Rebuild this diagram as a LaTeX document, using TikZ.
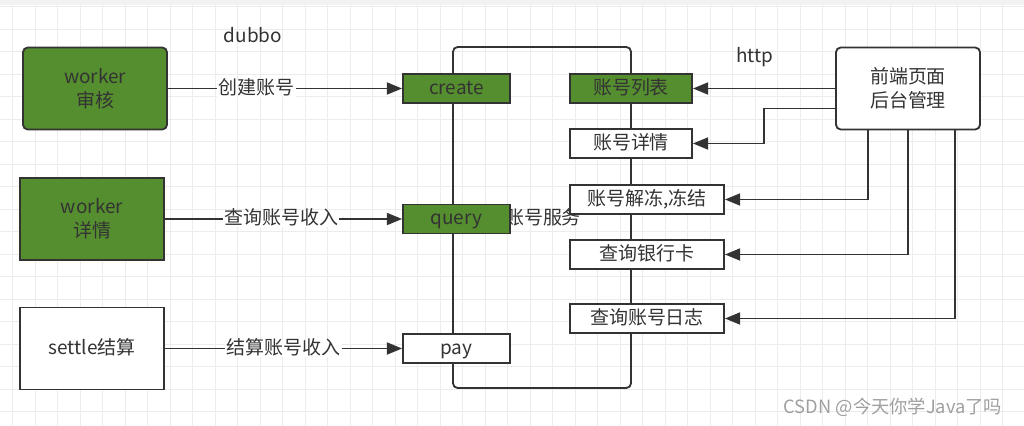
\documentclass[tikz,border=0pt]{standalone}
\usepackage{fontspec}
\setmainfont{Noto Sans CJK SC}
\usetikzlibrary{arrows.meta}
\definecolor{leaf}{RGB}{85,142,47}
\definecolor{ink}{RGB}{51,51,51}
\definecolor{gridc}{RGB}{236,236,236}
\tikzset{
  txt/.style={text=ink,font=\fontsize{13.5pt}{17pt}\selectfont},
  box/.style={txt,draw=ink,line width=1.3pt,inner sep=0pt,align=center},
  grn/.style={box,fill=leaf},
  wht/.style={box,fill=white},
  oneline/.style={text height=0.9em,text depth=0.1em},
  arr/.style={draw=ink,line width=1.3pt,-{Triangle[length=0.38cm,width=0.3cm]}},
  lbl/.style={txt,fill=white,inner sep=1pt}
}
\begin{document}
\begin{tikzpicture}[x=0.025cm,y=-0.025cm]
  \useasboundingbox (0,0) rectangle (1024,426);
  %raster
	\fill[gray!10] (0,0) rectangle (1024,5);
	\foreach \i in {0,...,45} \draw[gridc,line width=0.6pt] ({12.5+22.5*\i},5) -- ({12.5+22.5*\i},426);
	\foreach \j in {0,...,18} \draw[gridc,line width=0.6pt] (0,{6.7+22.5*\j}) -- (1024,{6.7+22.5*\j});

  %afnemers links
	\node[grn,rounded corners=0.12cm,minimum width=3.6cm,minimum height=2.05cm] (audit) at (95,88.5) {worker\\审核};
	\node[grn,minimum width=3.6cm,minimum height=2.05cm] (detailw) at (92,219) {worker\\详情};
	\node[wht,oneline,minimum width=3.6cm,minimum height=2.05cm] (settle) at (92,348.5) {settle结算};
	\node[txt] (dubbo) at (253,35) {dubbo};

  %account service
	\node[draw=ink,line width=1.3pt,rounded corners=0.12cm,minimum width=4.45cm,minimum height=8.525cm] (svc) at (542,217.5) {};
	\node[txt,oneline] (svcname) at (543,219) {账号服务};
	\node[grn,oneline,minimum width=2.675cm,minimum height=0.725cm] (create) at (456.5,88.5) {create};
	\node[grn,oneline,minimum width=2.675cm,minimum height=0.725cm] (query) at (456.5,219) {query};
	\node[wht,oneline,minimum width=2.675cm,minimum height=0.725cm] (pay) at (456.5,348.5) {pay};
	\node[grn,oneline,minimum width=3.05cm,minimum height=0.725cm] (list) at (631,88.5) {账号列表};
	\node[wht,oneline,minimum width=3.05cm,minimum height=0.725cm] (detail) at (631,143.5) {账号详情};
	\node[wht,oneline,minimum width=3.85cm,minimum height=0.725cm] (freeze) at (647,199.5) {账号解冻,冻结};
	\node[wht,oneline,minimum width=3.85cm,minimum height=0.725cm] (card) at (647,254.5) {查询银行卡};
	\node[wht,oneline,minimum width=3.85cm,minimum height=0.725cm] (log) at (647,318.5) {查询账号日志};

  %front-end
	\node[wht,rounded corners=0.12cm,minimum width=3.6cm,minimum height=2.05cm] (front) at (908,88.5) {前端页面\\后台管理};
	\node[txt] (http) at (755,57) {http};

  %dubbo pijlen
	\draw[arr] (audit.east) -- (create.west) node[lbl,oneline,pos=0.377] {创建账号};
	\draw[arr] (detailw.east) -- (query.west) node[lbl,oneline,pos=0.49] {查询账号收入};
	\draw[arr] (settle.east) -- (pay.west) node[lbl,oneline,pos=0.5] {结算账号收入};

  %http pijlen
	\draw[arr] (front.west) -- (list.east);
	\draw[arr] ([yshift=-0.5cm]front.west) -- ++(-71,0) |- (detail.east);
	\draw[arr] ([xshift=-1cm]front.south) |- (freeze.east);
	\draw[arr] (front.south) |- (card.east);
	\draw[arr] ([xshift=1.175cm]front.south) |- (log.east);

  %watermerk
	\node[text=gray!75,font=\fontsize{13pt}{15pt}\selectfont] (mark) at (893,407) {CSDN @今天你学Java了吗};
\end{tikzpicture}
\end{document}
